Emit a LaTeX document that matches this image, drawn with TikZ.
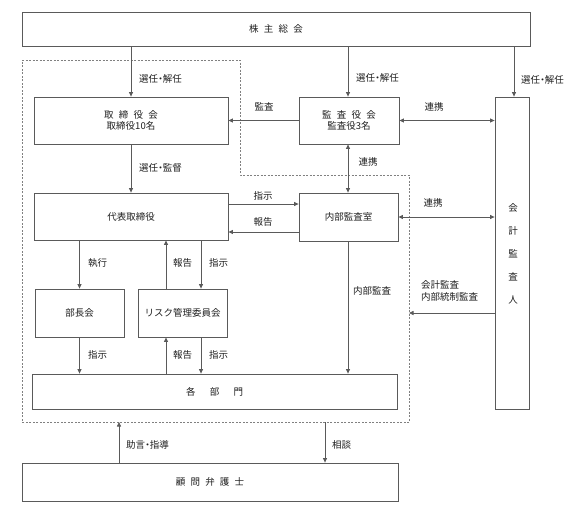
\documentclass[tikz,border=0pt]{standalone}
\usepackage{fontspec}
\newfontfamily\jpfont{Noto Sans CJK JP}
\usetikzlibrary{arrows.meta,calc}
\definecolor{linegray}{HTML}{5A5A5A}
\definecolor{dashgray}{HTML}{808080}
\definecolor{txt}{HTML}{1E1E1E}
\newcommand{\jsp}{\hspace{0.55em}}
\newcommand{\jdot}{\kern-0.25em・\kern-0.25em}
\begin{document}
\begin{tikzpicture}[x=1pt,y=-1pt,
  every node/.style={font=\jpfont\fontsize{9.5}{11.5}\selectfont,text=txt},
  box/.style={draw=linegray,line width=0.8pt,rectangle,inner sep=0pt,align=center},
  arr/.style={draw=linegray,line width=0.8pt,-{Triangle[length=4.5pt,width=4pt]}},
  darr/.style={draw=linegray,line width=0.8pt,{Triangle[length=4.5pt,width=4pt]}-{Triangle[length=4.5pt,width=4pt]}},
  lbl/.style={inner sep=0pt},
  dashbox/.style={draw=dashgray,line width=0.8pt,dash pattern=on 2pt off 1.5pt}]
\useasboundingbox (0,0) rectangle (567,506);

% dashed outline
\coordinate (d1) at (22,60);
\coordinate (d2) at (240,60);
\coordinate (d3) at (240,175);
\coordinate (d4) at (409,175);
\coordinate (d5) at (409,422);
\coordinate (d6) at (22,422);
\draw[dashbox] (d1) -- (d2) -- (d3) -- (d4) -- (d5) -- (d6) -- cycle;

% boxes
\node[box,minimum width=508pt,minimum height=34pt] (sh) at (276,29) {株\jsp 主\jsp 総\jsp 会};
\node[box,minimum width=194pt,minimum height=47pt] (tb) at (131,120.5) {取\jsp 締\jsp 役\jsp 会\\取締役10名};
\node[box,minimum width=100pt,minimum height=47pt] (ka) at (349,120.5) {監\jsp 査\jsp 役\jsp 会\\監査役3名};
\node[box,minimum width=34pt,minimum height=312pt] (kk) at (512,253) {};
\node[box,minimum width=194pt,minimum height=47pt] (dh) at (131,216.5) {代表取締役};
\node[box,minimum width=99pt,minimum height=48pt] (nb) at (348.5,217) {内部監査室};
\node[box,minimum width=89pt,minimum height=48pt] (bc) at (79.5,313) {部長会};
\node[box,minimum width=89pt,minimum height=48pt] (rk) at (182.5,313) {リスク管理委員会};
\node[box,minimum width=365pt,minimum height=35pt] (kb) at (214.5,391.5) {各\hspace{1.5em}部\hspace{1.5em}門};
\node[box,minimum width=376pt,minimum height=38pt] (km) at (210,482) {顧\jsp 問\jsp 弁\jsp 護\jsp 士};

% vertical text of 会計監査人
\node[lbl] (kk1) at (513,208) {会};
\node[lbl] (kk2) at (513,231) {計};
\node[lbl] (kk3) at (513,254) {監};
\node[lbl] (kk4) at (513,277) {査};
\node[lbl] (kk5) at (513,300) {人};

% connectors from 株主総会
\draw[arr] (sh.south -| tb) -- (tb.north);
\node[lbl,anchor=west] (l1) at (139,79) {選任\jdot 解任};
\draw[arr] (sh.south -| 348,0) -- (ka.north -| 348,0);
\node[lbl,anchor=west] (l2) at (356,78) {選任\jdot 解任};
\draw[arr] (sh.south -| 514,0) -- (kk.north -| 514,0);
\node[lbl,anchor=west] (l3) at (521,80) {選任\jdot 解任};

% 監査役会 connectors
\draw[arr] (ka.west) -- (tb.east);
\node[lbl] (l4) at (264,107) {監査};
\draw[darr] (ka.east) -- (ka.east -| kk.west);
\node[lbl] (l5) at (434,107) {連携};
\draw[darr] (ka.south -| 348,0) -- (nb.north -| 348,0);
\node[lbl] (l6) at (368,162) {連携};

% 取締役会 -> 代表取締役
\draw[arr] (tb.south) -- (dh.north);
\node[lbl,anchor=west] (l7) at (139,168) {選任\jdot 監督};

% 代表取締役 <-> 内部監査室
\draw[arr] ([yshift=12.5pt]dh.east) -- ([yshift=12.5pt]dh.east -| nb.west);
\node[lbl] (l8) at (263,196) {指示};
\draw[arr] ([yshift=-15pt]nb.west) -- ([yshift=-15pt]nb.west -| dh.east);
\node[lbl] (l9) at (263,222) {報告};

% 内部監査室 <-> 会計監査人
\draw[darr] (nb.east) -- (nb.east -| kk.west);
\node[lbl] (l10) at (433,203) {連携};

% 代表取締役 -> 部長会 / リスク管理委員会
\draw[arr] (dh.south -| bc) -- (bc.north);
\node[lbl,anchor=west] (l11) at (88,263) {執行};
\draw[arr] ([xshift=-16.5pt]rk.north) -- ([xshift=-16.5pt]rk.north |- dh.south);
\node[lbl,anchor=west] (l12) at (173,263) {報告};
\draw[arr] ([xshift=18.5pt]rk.north |- dh.south) -- ([xshift=18.5pt]rk.north);
\node[lbl,anchor=west] (l13) at (209,263) {指示};

% to 各部門
\draw[arr] (bc.south) -- (bc.south |- kb.north);
\node[lbl,anchor=west] (l14) at (88,355) {指示};
\draw[arr] ([xshift=-16.5pt]rk.south |- kb.north) -- ([xshift=-16.5pt]rk.south);
\node[lbl,anchor=west] (l15) at (173,355) {報告};
\draw[arr] ([xshift=18.5pt]rk.south) -- ([xshift=18.5pt]rk.south |- kb.north);
\node[lbl,anchor=west] (l16) at (209,355) {指示};
\draw[arr] (nb.south -| 348,0) -- (kb.north -| 348,0);
\node[lbl,anchor=west] (l17) at (353,291) {内部監査};

% 会計監査人 -> dashed area
\coordinate (ae) at (409,313);
\draw[arr] (kk.west |- ae) -- (ae);
\node[lbl,anchor=west,align=left] (l18) at (421,291) {会計監査\\内部統制監査};

% 顧問弁護士
\coordinate (c1) at (119,422);
\coordinate (c2) at (325,422);
\draw[arr] (km.north -| c1) -- (c1);
\node[lbl,anchor=west] (l19) at (126,445) {助言\jdot 指導};
\draw[arr] (c2) -- (km.north -| c2);
\node[lbl,anchor=west] (l20) at (332,445) {相談};
\end{tikzpicture}
\end{document}
